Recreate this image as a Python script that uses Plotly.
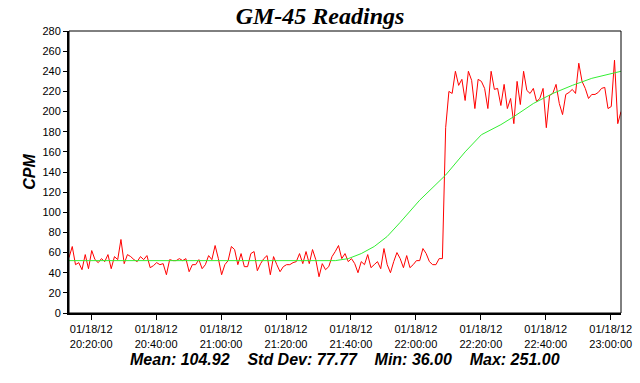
import pandas as pd
import plotly.graph_objects as go

start_time = "2012-01-18 20:13:10"

cpm = [
    55, 66, 48, 50, 43, 58, 44, 62, 53, 50, 54, 51, 58, 44, 56, 53, 73, 49, 58, 56,
    53, 51, 56, 53, 57, 45, 47, 50, 48, 49, 38, 53, 52, 52, 54, 52, 54, 41, 48, 48,
    53, 44, 48, 57, 53, 67, 54, 38, 48, 52, 66, 63, 48, 59, 46, 46, 59, 61, 42, 49,
    54, 57, 38, 56, 48, 41, 46, 48, 48, 50, 51, 59, 49, 61, 49, 63, 53, 36,
    49, 43, 46, 56, 61, 67, 54, 59, 51, 54, 49, 40, 51, 48, 58, 45, 48, 51, 44, 64,
    48, 40, 51, 60, 54, 45, 57, 45, 48, 52, 52, 64, 59, 51, 48, 48, 54, 54,
    184,
    220, 218, 240, 226, 232, 211, 240, 231, 203, 232, 230, 223, 203, 240, 222, 223,
    206, 227, 203, 213, 188, 230, 207, 240, 221, 218, 223, 210, 213, 223, 184, 216,
    218, 227, 208, 197, 217, 219, 222, 218, 248, 230, 223, 213, 217, 217, 219, 223,
    224, 203, 205, 251, 188, 200,
]

trend_minutes = [0, 30, 60, 72, 82, 86, 90, 94, 98, 102, 108, 116, 122, 127, 130,
                 133, 137, 143, 149, 155, 161, 170]
trend_values = [52, 52, 52, 52, 52, 54, 59, 66, 76, 90, 112, 137, 160, 177, 182,
                187, 195, 208, 218, 226, 233, 240]

y_ticks = list(range(0, 281, 20))
stats_text = "Mean: 104.92    Std Dev: 77.77    Min: 36.00    Max: 251.00"
title_text = "GM-45 Readings"
y_label = "CPM"

t0 = pd.Timestamp(start_time)
times = pd.date_range(t0, periods=len(cpm), freq="1min")
trend_times = [t0 + pd.Timedelta(minutes=m) for m in trend_minutes]

fig = go.Figure()
fig.add_trace(go.Scatter(x=times, y=cpm, mode="lines",
                         line=dict(color="#ff0000", width=1), showlegend=False))
fig.add_trace(go.Scatter(x=trend_times, y=trend_values, mode="lines",
                         line=dict(color="#33ee33", width=1), showlegend=False))

font_ticks = dict(family="Liberation Sans, Arial", size=11, color="black")

W, H = 640, 383
fig.update_layout(
    width=W, height=H,
    margin=dict(l=69, r=19, t=31, b=70),
    paper_bgcolor="white", plot_bgcolor="white",
    title=dict(text="<b><i>" + title_text + "</i></b>",
               font=dict(family="Liberation Serif, Times New Roman", size=24, color="black"),
               x=0.5, xref="container", xanchor="center",
               y=1 - 16 / H, yref="container", yanchor="middle"),
    xaxis=dict(
        automargin=False,
        range=[times[0], times[-1]],
        tick0="2012-01-18 20:20:00", dtick=20 * 60 * 1000,
        tickformat="%m/%d/%y<br>%H:%M:%S",
        ticks="outside", ticklen=5, tickcolor="black", tickwidth=1,
        showgrid=False, zeroline=False,
        showline=True, linecolor="black", linewidth=2,
        tickfont=font_ticks,
    ),
    yaxis=dict(
        automargin=False,
        range=[0, 280], tickvals=y_ticks,
        ticks="outside", ticklen=4, tickcolor="black", tickwidth=1,
        showgrid=False, zeroline=False,
        showline=True, linecolor="black", linewidth=2,
        tickfont=font_ticks,
        title=dict(text="<b><i>" + y_label + "</i></b>",
                   font=dict(family="Liberation Sans, Arial", size=16, color="black"),
                   standoff=3),
    ),
    shapes=[dict(type="rect", xref="paper", yref="paper", x0=0, x1=1, y0=0, y1=1,
                 line=dict(color="black", width=1), fillcolor="rgba(0,0,0,0)")],
    annotations=[dict(text="<b><i>" + stats_text + "</i></b>",
                      xref="paper", yref="paper", x=0.5, y=0,
                      yshift=-46, xanchor="center", yanchor="middle",
                      showarrow=False,
                      font=dict(family="Liberation Sans, Arial", size=16, color="black"))],
)

fig.write_html("out.html", config={"displayModeBar": False},
               post_script="document.body.style.margin='0px';")
